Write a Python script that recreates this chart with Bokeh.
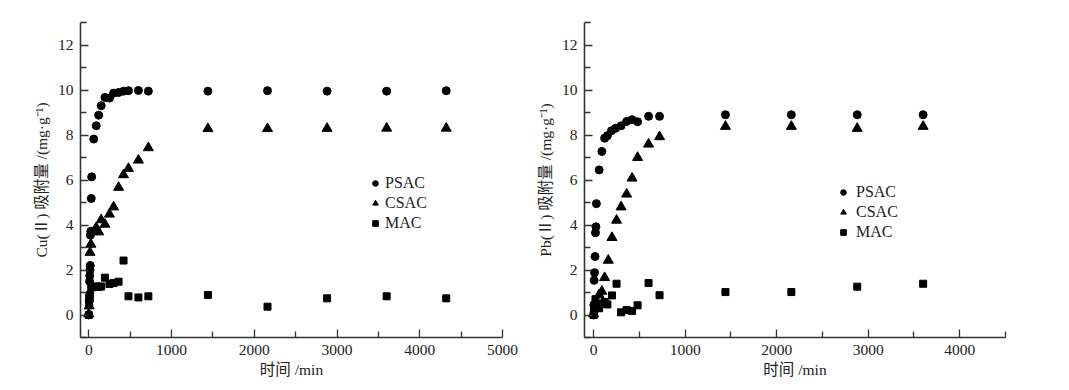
from bokeh.plotting import figure
from bokeh.layouts import row
from bokeh.models import Range1d, FixedTicker
from bokeh.embed import file_html
from bokeh.resources import INLINE

# ---------------- data: Cu(II) ----------------
cu_psac_t = [0, 5, 8, 10, 12, 15, 18, 20, 25, 30, 35, 60, 90, 120, 150, 195, 250, 300, 360, 420, 480, 600, 720, 1440, 2160, 2880, 3600, 4320]
cu_psac_q = [0.0, 0.62, 0.85, 1.5, 1.75, 2.0, 2.2, 3.55, 3.72, 5.18, 6.14, 7.82, 8.41, 8.88, 9.30, 9.67, 9.64, 9.86, 9.89, 9.95, 9.97, 9.98, 9.95, 9.95, 9.97, 9.95, 9.95, 9.97]

cu_csac_t = [0, 5, 15, 25, 60, 90, 120, 150, 195, 250, 300, 360, 420, 480, 600, 720, 1440, 2160, 2880, 3600, 4320]
cu_csac_q = [0.05, 0.4, 2.78, 3.14, 3.70, 3.88, 3.69, 4.23, 4.03, 4.48, 4.80, 5.67, 6.23, 6.51, 6.88, 7.43, 8.28, 8.28, 8.29, 8.30, 8.30]

cu_mac_t = [0, 5, 10, 15, 30, 60, 90, 120, 150, 195, 250, 300, 360, 420, 480, 600, 720, 1440, 2160, 2880, 3600, 4320]
cu_mac_q = [0.0, 0.55, 0.75, 0.90, 1.22, 1.25, 1.27, 1.25, 1.27, 1.66, 1.38, 1.42, 1.48, 2.42, 0.83, 0.78, 0.83, 0.89, 0.37, 0.74, 0.83, 0.74]

# ---------------- data: Pb(II) ----------------
pb_psac_t = [0, 2, 5, 10, 15, 20, 25, 30, 60, 90, 120, 150, 195, 240, 300, 360, 420, 480, 600, 720, 1440, 2160, 2880, 3600]
pb_psac_q = [0.0, 0.45, 1.54, 1.88, 2.60, 3.66, 3.92, 4.95, 6.45, 7.27, 7.86, 7.97, 8.19, 8.30, 8.41, 8.60, 8.68, 8.59, 8.83, 8.83, 8.90, 8.90, 8.90, 8.90]

pb_csac_t = [0, 30, 60, 90, 120, 160, 200, 250, 300, 360, 420, 480, 600, 720, 1440, 2160, 2880, 3600]
pb_csac_q = [0.05, 0.60, 0.90, 1.05, 1.66, 2.43, 3.44, 4.21, 4.80, 5.37, 6.08, 7.00, 7.59, 7.92, 8.38, 8.38, 8.29, 8.38]

pb_mac_t = [0, 5, 10, 20, 60, 90, 120, 150, 200, 250, 300, 360, 420, 480, 600, 720, 1440, 2160, 2880, 3600]
pb_mac_q = [0.0, 0.25, 0.45, 0.70, 0.30, 0.50, 0.58, 0.47, 0.87, 1.39, 0.12, 0.22, 0.18, 0.43, 1.42, 0.88, 1.02, 1.02, 1.26, 1.39]

series_names = ["PSAC", "CSAC", "MAC"]
y_ticks = [0, 2, 4, 6, 8, 10, 12]
y_minor = [-1, 1, 3, 5, 7, 9, 11, 13]

SERIF = "'Liberation Serif', 'Noto Sans CJK SC'"


def make_plot(width, border_left, border_right, x_end, x_ticks, x_minor,
              ylabel, data, legend_loc, label_standoff):
    p = figure(width=width, height=384, output_backend="svg", toolbar_location=None,
               x_range=Range1d(-100, x_end), y_range=Range1d(-1, 13),
               min_border_left=border_left, min_border_right=border_right,
               min_border_top=22, min_border_bottom=47)
    p.outline_line_color = None
    p.grid.visible = False
    p.background_fill_color = "white"

    markers = [("circle", 8), ("triangle", 10), ("square", 7)]
    for (t, q), (mk, sz), name in zip(data, markers, series_names):
        p.scatter(t, q, marker=mk, size=sz, color="black", legend_label=name)

    for ax in (p.xaxis[0], p.yaxis[0]):
        ax.axis_line_width = 1.6
        ax.axis_line_color = "#333333"
        ax.major_tick_line_color = "#333333"
        ax.minor_tick_line_color = "#333333"
        ax.major_tick_line_width = 1.3
        ax.minor_tick_line_width = 1.3
        ax.major_tick_out = 0
        ax.minor_tick_out = 0
        ax.major_tick_in = 8
        ax.minor_tick_in = 6
        ax.major_label_text_font = SERIF
        ax.major_label_text_font_size = "15.5px"
        ax.major_label_text_color = "#222222"
        ax.axis_label_text_font = SERIF
        ax.axis_label_text_font_size = "15.5px"
        ax.axis_label_text_font_style = "normal"
        ax.axis_label_text_color = "#222222"
        ax.major_label_standoff = 7

    p.xaxis.ticker = FixedTicker(ticks=x_ticks, minor_ticks=x_minor)
    p.yaxis.ticker = FixedTicker(ticks=y_ticks, minor_ticks=y_minor)
    p.xaxis.axis_label = "时间 /min"
    p.yaxis.axis_label = ylabel
    p.xaxis.axis_label_standoff = 3
    p.yaxis.axis_label_standoff = 5

    lg = p.legend[0]
    lg.location = legend_loc
    lg.margin = 0
    lg.padding = 0
    lg.spacing = 0
    lg.border_line_color = None
    lg.background_fill_alpha = 0
    lg.label_height = 20
    lg.glyph_height = 20
    lg.glyph_width = 14
    lg.label_standoff = label_standoff
    lg.label_text_font = SERIF
    lg.label_text_font_size = "16px"
    lg.label_text_color = "#222222"
    return p


p1 = make_plot(530, 80, 28, 5000,
               [0, 1000, 2000, 3000, 4000, 5000], [500, 1500, 2500, 3500, 4500],
               "Cu(Ⅱ) 吸附量 /(mg·g⁻¹)",
               [(cu_psac_t, cu_psac_q), (cu_csac_t, cu_csac_q), (cu_mac_t, cu_mac_q)],
               (288, 104), 3)

p2 = make_plot(531, 54, 56, 4500,
               [0, 1000, 2000, 3000, 4000], [500, 1500, 2500, 3500, 4500],
               "Pb(Ⅱ) 吸附量 /(mg·g⁻¹)",
               [(pb_psac_t, pb_psac_q), (pb_csac_t, pb_csac_q), (pb_mac_t, pb_mac_q)],
               (252, 95), 6)

layout = row(p1, p2)
open("out.html", "w").write(file_html(layout, INLINE))
